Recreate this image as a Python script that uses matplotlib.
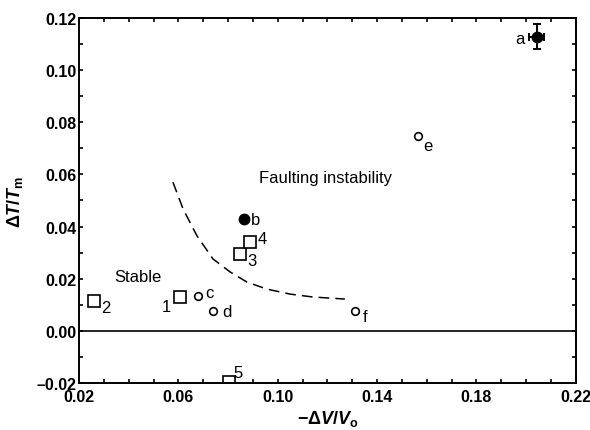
import numpy as np
import matplotlib.pyplot as plt
from matplotlib.ticker import MultipleLocator, FuncFormatter

plt.rcParams['font.family'] = ['Liberation Sans Narrow', 'Liberation Sans', 'DejaVu Sans']
plt.rcParams['mathtext.fontset'] = 'custom'
plt.rcParams['mathtext.rm'] = 'Liberation Sans:bold'
plt.rcParams['mathtext.it'] = 'Liberation Sans:italic:bold'
plt.rcParams['mathtext.bf'] = 'Liberation Sans:bold'

# squares (numbered)
sq_x = [0.0606, 0.026, 0.0848, 0.0888, 0.0804]
sq_y = [0.0130, 0.0114, 0.0295, 0.0341, -0.0196]
sq_lab = ['1', '2', '3', '4', '5']

# open circles
oc_x = [0.0679, 0.0739, 0.1564, 0.131]
oc_y = [0.0134, 0.0075, 0.0747, 0.0075]
oc_lab = ['c', 'd', 'e', 'f']

# filled circles
b_x, b_y = 0.0864, 0.0429
a_x, a_y = 0.2043, 0.1128
a_xerr, a_yerr = 0.003, 0.0048

# dashed boundary
bd_x = [0.0578, 0.0619, 0.0675, 0.0739, 0.0808, 0.0876, 0.0957, 0.105, 0.114, 0.127]
bd_y = [0.057, 0.0467, 0.0364, 0.0276, 0.0226, 0.0187, 0.0160, 0.0141, 0.0130, 0.0122]

xticks = [0.02, 0.06, 0.10, 0.14, 0.18, 0.22]
yticks = [-0.02, 0.00, 0.02, 0.04, 0.06, 0.08, 0.10, 0.12]

fig = plt.figure(figsize=(5.9, 4.31), dpi=100)
ax = fig.add_axes([0.134, 0.109, 0.842, 0.847])

ax.axhline(0, color='black', lw=1.2)
ax.plot(bd_x, bd_y, color='black', lw=1.1, dashes=(7, 4))

ax.plot(sq_x, sq_y, 's', ms=8, mfc='white', mec='black', mew=1.2, ls='none')
ax.plot(oc_x, oc_y, 'o', ms=5.5, mfc='white', mec='black', mew=1.2, ls='none')
ax.plot(b_x, b_y, 'o', ms=7.5, color='black')
ax.errorbar(a_x, a_y, xerr=a_xerr, yerr=a_yerr, fmt='o', ms=7.5, color='black',
            capsize=3, elinewidth=1.4, capthick=1.4)

# labels for points
sq_off = [(-0.0055, -0.0035), (0.0048, -0.0025), (0.0048, -0.0025), (0.0048, 0.0015), (0.0035, 0.0035)]
for x, y, t, (dx, dy) in zip(sq_x, sq_y, sq_lab, sq_off):
    ax.text(x + dx, y + dy, t, fontsize=12, ha='center', va='center')
oc_off = [(0.0045, 0.0015), (0.0055, 0.0), (0.0042, -0.0035), (0.004, -0.002)]
for x, y, t, (dx, dy) in zip(oc_x, oc_y, oc_lab, oc_off):
    ax.text(x + dx, y + dy, t, fontsize=12, ha='center', va='center')
ax.text(b_x + 0.0045, b_y, 'b', fontsize=12, ha='center', va='center')
ax.text(a_x - 0.0068, a_y - 0.0005, 'a', fontsize=12, ha='center', va='center')

ax.text(0.1194, 0.059, 'Faulting instability', fontsize=12, ha='center', va='center')
ax.text(0.0437, 0.0207, 'Stable', fontsize=12, ha='center', va='center')

ax.set_xlim(0.02, 0.22)
ax.set_ylim(-0.02, 0.12)
ax.set_xticks(xticks)
ax.set_yticks(yticks)
ax.xaxis.set_minor_locator(MultipleLocator(0.01))
ax.yaxis.set_minor_locator(MultipleLocator(0.01))
fmt = FuncFormatter(lambda v, p: ('%.2f' % v).replace('-', '\u2013'))
ax.xaxis.set_major_formatter(fmt)
ax.yaxis.set_major_formatter(fmt)
ax.tick_params(which='both', direction='in', top=True, right=True, length=3, width=1.2,
               labelsize=11.5)
ax.tick_params(axis='x', pad=4)
ax.tick_params(axis='y', pad=2)
for lab in ax.get_xticklabels() + ax.get_yticklabels():
    lab.set_fontweight('bold')
for sp in ax.spines.values():
    sp.set_linewidth(1.4)

ax.set_xlabel(r'$-\Delta V/V_{\rm o}$', fontsize=13, labelpad=3)
ax.set_ylabel(r'$\Delta T/T_{\rm m}$', fontsize=13, labelpad=8)

fig.savefig('out.png', dpi=100)
